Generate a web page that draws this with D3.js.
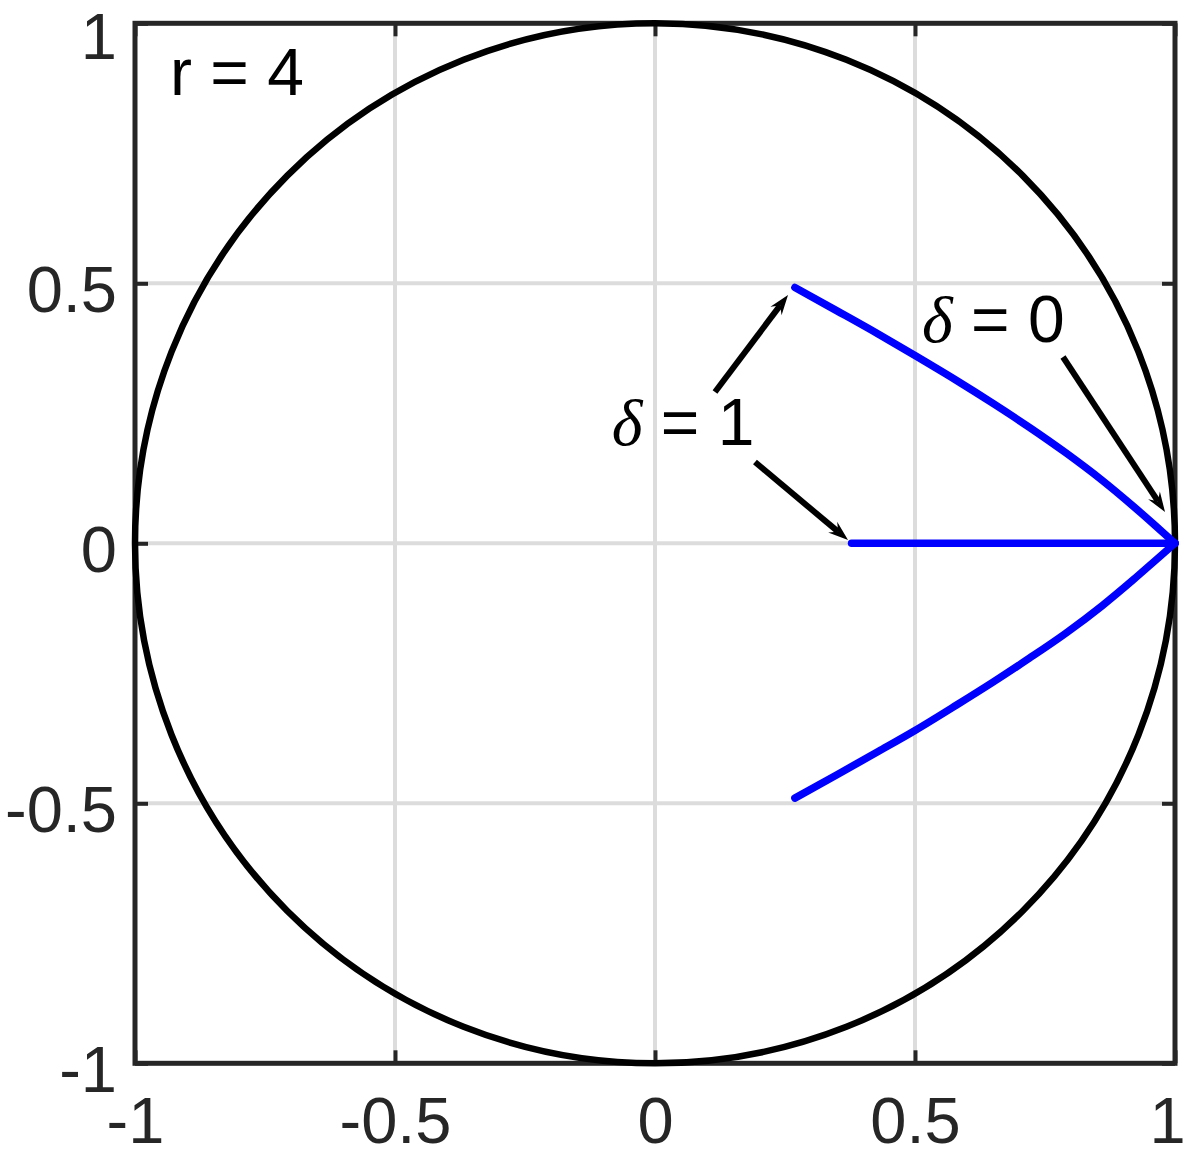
<!DOCTYPE html>
<html>
<head>
<meta charset="utf-8">
<script src="https://cdn.jsdelivr.net/npm/d3@7"></script>
<style>
  body { margin: 0; background: #fff; }
  svg { display: block; }
</style>
</head>
<body>
<div id="chart"><svg width="1186" height="1156"></svg></div>
<script>
// ticks
const TICKS = [-1, -0.5, 0, 0.5, 1];
const TICK_LABELS = ['-1', '-0.5', '0', '0.5', '1'];

// blue curves
const UPPER_X = [0.269, 0.35, 0.43, 0.50, 0.58, 0.65, 0.72, 0.79, 0.86, 0.92, 0.96, 1.0];
const UPPER_Y = [0.492, 0.447, 0.402, 0.361, 0.313, 0.269, 0.223, 0.174, 0.121, 0.071, 0.036, 0];
const MIDDLE_X = [0.378, 1.0];
const MIDDLE_Y = [0, 0];
const LOWER_X = [0.269, 0.35, 0.43, 0.50, 0.58, 0.65, 0.72, 0.79, 0.86, 0.92, 0.96, 1.0];
const LOWER_Y = [-0.490, -0.445, -0.400, -0.360, -0.311, -0.267, -0.221, -0.173, -0.120, -0.070, -0.035, 0];

// annotations, data units
const LABELS = [
  { sym: 'δ', txt: ' = 1', x: -0.083, y: 0.189 },
  { sym: 'δ', txt: ' = 0', x: 0.5135, y: 0.387 }
];
const ARROWS = [
  { x1: 0.1154, y1: 0.291, x2: 0.2558, y2: 0.4775 },
  { x1: 0.1923, y1: 0.1563, x2: 0.3712, y2: 0.0063 },
  { x1: 0.7846, y1: 0.3583, x2: 0.9808, y2: 0.0602 }
];

const SVG = d3.select('#chart svg');
const AX = '#262626';
const FONT = "'Liberation Sans', Arial, Helvetica, sans-serif";

const X_SCALE = d3.scaleLinear().domain([-1, 1]).range([135, 1175]);
const Y_SCALE = d3.scaleLinear().domain([-1, 1]).range([1063.3, 23.3]);

// grid
SVG.append('g').selectAll('line')
  .data(TICKS.slice(1, -1))
  .join('line')
  .attr('x1', d => X_SCALE(d)).attr('x2', d => X_SCALE(d))
  .attr('y1', Y_SCALE(1)).attr('y2', Y_SCALE(-1))
  .style('stroke', '#dcdcdc').style('stroke-width', 4);
SVG.append('g').selectAll('line')
  .data(TICKS.slice(1, -1))
  .join('line')
  .attr('y1', d => Y_SCALE(d)).attr('y2', d => Y_SCALE(d))
  .attr('x1', X_SCALE(-1)).attr('x2', X_SCALE(1))
  .style('stroke', '#dcdcdc').style('stroke-width', 4);

// axes (ticks inward, box on)
function styleAxis(g) {
  g.select('.domain').remove();
  g.selectAll('.tick line').style('stroke', AX).style('stroke-width', 4);
  g.selectAll('.tick text')
    .style('font-family', FONT).style('font-size', '65px').style('fill', AX);
}
const fmt = d => TICK_LABELS[TICKS.indexOf(d)];

SVG.append('g')
  .attr('transform', `translate(0,${Y_SCALE(-1)})`)
  .call(d3.axisBottom(X_SCALE).tickValues(TICKS).tickFormat(fmt).tickSizeInner(-13))
  .call(styleAxis)
  .selectAll('.tick text').attr('y', 80).attr('dy', 0)
  .attr('x', d => d === 1 ? -8 : 0);   // keep the last label inside the page
SVG.append('g')
  .attr('transform', `translate(0,${Y_SCALE(1)})`)
  .call(d3.axisTop(X_SCALE).tickValues(TICKS).tickFormat('').tickSizeInner(-13))
  .call(styleAxis);
SVG.append('g')
  .attr('transform', `translate(${X_SCALE(-1)},0)`)
  .call(d3.axisLeft(Y_SCALE).tickValues(TICKS).tickFormat(fmt).tickSizeInner(-13))
  .call(styleAxis)
  .selectAll('.tick text').attr('x', -18).attr('dy', 0)
  .attr('y', d => d === 1 ? 35 : 28);
SVG.append('g')
  .attr('transform', `translate(${X_SCALE(1)},0)`)
  .call(d3.axisRight(Y_SCALE).tickValues(TICKS).tickFormat('').tickSizeInner(-13))
  .call(styleAxis);

SVG.append('rect')
  .attr('x', X_SCALE(-1)).attr('y', Y_SCALE(1))
  .attr('width', X_SCALE(1) - X_SCALE(-1))
  .attr('height', Y_SCALE(-1) - Y_SCALE(1))
  .style('fill', 'none').style('stroke', AX).style('stroke-width', 5);

// unit circle
SVG.append('circle')
  .attr('cx', X_SCALE(0)).attr('cy', Y_SCALE(0))
  .attr('r', X_SCALE(1) - X_SCALE(0))
  .style('fill', 'none').style('stroke', '#000').style('stroke-width', 6.5);

// blue curves
const LINE = d3.line().x(d => X_SCALE(d[0])).y(d => Y_SCALE(d[1])).curve(d3.curveMonotoneX);
[[UPPER_X, UPPER_Y], [MIDDLE_X, MIDDLE_Y], [LOWER_X, LOWER_Y]].forEach(([xs, ys]) => {
  SVG.append('path')
    .datum(d3.zip(xs, ys))
    .attr('d', LINE)
    .style('fill', 'none').style('stroke', '#0000ff')
    .style('stroke-width', 7.5).style('stroke-linecap', 'round').style('stroke-linejoin', 'round');
});

// arrows
const HEAD_L = 20, HEAD_W = 14, NOTCH = 13;
ARROWS.forEach(a => {
  const x1 = X_SCALE(a.x1), y1 = Y_SCALE(a.y1), x2 = X_SCALE(a.x2), y2 = Y_SCALE(a.y2);
  const ang = Math.atan2(y2 - y1, x2 - x1);
  const len = Math.hypot(x2 - x1, y2 - y1);
  const g = SVG.append('g').attr('transform', `translate(${x1},${y1}) rotate(${ang * 180 / Math.PI})`);
  g.append('line')
    .attr('x1', 0).attr('y1', 0).attr('x2', len - NOTCH).attr('y2', 0)
    .style('stroke', '#000').style('stroke-width', 6);
  g.append('path')
    .attr('d', `M${len},0 L${len - HEAD_L},${-HEAD_W / 2} L${len - NOTCH},0 L${len - HEAD_L},${HEAD_W / 2} Z`)
    .style('fill', '#000');
});

// labels
LABELS.forEach(l => {
  const t = SVG.append('text')
    .attr('x', X_SCALE(l.x)).attr('y', Y_SCALE(l.y))
    .style('font-size', '66px').style('fill', '#000')
    .attr('xml:space', 'preserve');
  t.append('tspan').text(l.sym)
    .style('font-family', "'Liberation Serif', 'Times New Roman', serif").style('font-style', 'italic');
  t.append('tspan').text(l.txt).style('font-family', FONT);
});

SVG.append('text')
  .attr('x', X_SCALE(-0.9327)).attr('y', Y_SCALE(0.8621))
  .text('r = 4')
  .style('font-family', FONT).style('font-size', '66px').style('fill', '#000');
</script>
</body>
</html>
